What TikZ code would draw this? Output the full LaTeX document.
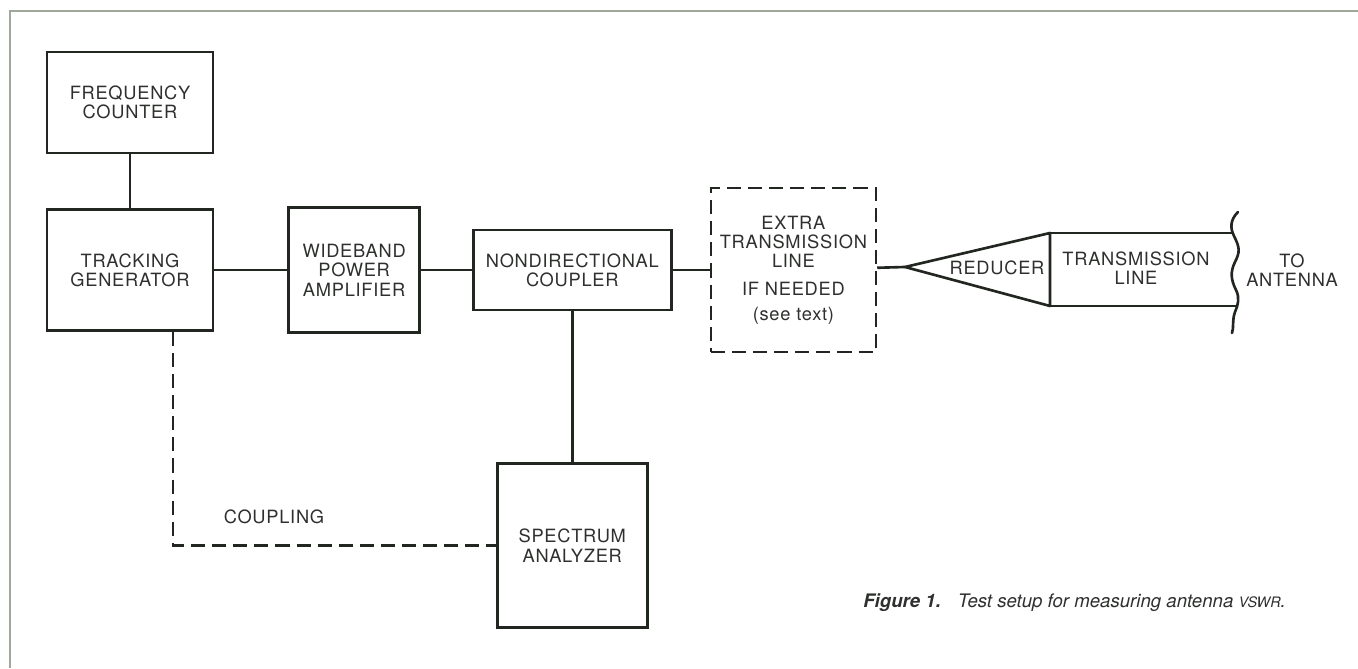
\documentclass[tikz,border=0pt]{standalone}
\usepackage{fontspec}
\setmainfont{TeX Gyre Heros}[LetterSpace=4]
\newfontfamily\capfont{TeX Gyre Heros}
\usepackage{tikz}
\usetikzlibrary{positioning}
\definecolor{inkline}{RGB}{34,38,32}
\definecolor{inktext}{RGB}{45,48,45}
\definecolor{framecol}{RGB}{160,168,155}

\begin{document}
\begin{tikzpicture}[
			box/.style={
				draw=inkline,
				line width=1.5pt,
				inner sep=0pt,
				align=center,
				text=inktext,
				font=\fontsize{10.4}{11}\selectfont
			},
			wire/.style={draw=inkline,line width=1.5pt},
			dashwire/.style={wire,dash pattern=on 8pt off 4pt},
			lbl/.style={text=inktext,align=center,font=\fontsize{10.4}{11}\selectfont}
			]
			\useasboundingbox (0,0) rectangle (27.16,13.36);
			\draw[framecol,line width=0.6pt] (0.2,0) -- (0.2,13.14) -- (27.16,13.14);
			
			\node[box,minimum width=3.32cm,minimum height=2.02cm] (fc) at (2.60,11.31)
			{FREQUENCY\\ COUNTER};
			
			\node[box,minimum width=3.32cm,minimum height=2.42cm,below=1.08cm of fc] (tg)
			{TRACKING\\ GENERATOR};
			
			\node[box,minimum width=2.62cm,minimum height=2.5cm,right=1.46cm of tg] (wb)
			{WIDEBAND\\ POWER\\ AMPLIFIER};
			
			\node[box,minimum width=3.96cm,minimum height=1.6cm,right=1.02cm of wb] (nc)
			{NONDIRECTIONAL\\ COUPLER};
			
			\node[box,dash pattern=on 8pt off 4pt,minimum width=3.3cm,minimum height=3.28cm,right=0.74cm of nc] (etl)
			{EXTRA\\ TRANSMISSION\\ LINE\\[5pt] IF NEEDED\\[3pt] (see text)};
			
			\node[box,minimum width=3.0cm,minimum height=3.28cm,below=3.02cm of nc] (sa)
			{SPECTRUM\\ ANALYZER};
			
			\draw[wire] (fc) -- (tg);
			\draw[wire] (tg) -- (wb);
			\draw[wire] (wb) -- (nc);
			\draw[wire] (nc) -- (etl);
			\draw[wire] (nc) -- (sa);
			\draw[dashwire] ([xshift=0.86cm]tg.south) |- (sa.west);
			\node[lbl] (cpl) at (5.48,3.02) {COUPLING};
			
			% reducer and line out to the antenna
			\coordinate (rtip) at (18.10,8.02);
			\coordinate (rtop) at (21.0,8.70);
			\coordinate (rbot) at (21.0,7.24);
			\draw[wire] (etl) -- (rtip);
			\draw[wire,line join=round] (rtip) -- (rtop) -- (rbot) -- cycle;
			\node[lbl] (red) at (19.94,8.0) {REDUCER};
			\draw[wire] (rtop) -- (24.68,8.70);
			\draw[wire] (rbot) -- (24.76,7.24);
			\draw[wire,line cap=round]
			(24.76,9.12) .. controls (24.60,8.96) and (24.60,8.80) .. (24.68,8.64)
			.. controls (24.80,8.40) and (24.80,8.32) .. (24.70,8.12)
			.. controls (24.60,7.92) and (24.62,7.76) .. (24.72,7.56)
			.. controls (24.80,7.40) and (24.76,7.26) .. (24.70,7.12)
			.. controls (24.64,6.96) and (24.68,6.80) .. (24.64,6.70);
			\node[lbl] (tl) at (22.72,8.0) {TRANSMISSION\\ LINE};
			\node[lbl] (ant) at (25.84,7.96) {TO\\ ANTENNA};
			
			\node[anchor=west,text=inktext,font=\capfont\fontsize{10.6}{12}\selectfont,inner sep=0pt] (cap) at (17.26,1.30)
			{\textbf{\textit{Figure 1.}}\hspace{0.34cm}\textit{Test setup for measuring antenna {\fontsize{8.2}{9}\selectfont VSWR}.}};
			
		\end{tikzpicture}
\end{document}
